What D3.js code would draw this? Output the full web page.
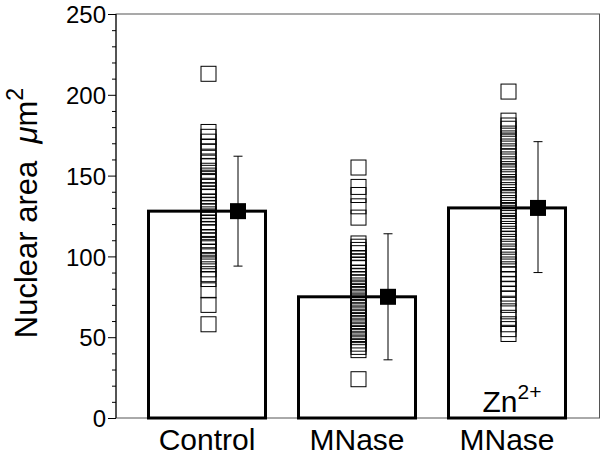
<!DOCTYPE html>
<html>
<head>
<meta charset="utf-8">
<script src="https://cdn.jsdelivr.net/npm/d3@7"></script>
<style>
body { margin: 0; background: #fff; }
text { font-family: "Liberation Sans", Arial, Helvetica, sans-serif; fill: #000; }
</style>
</head>
<body>
<script>
var width = 602;
var height = 457;
var margin = {top: 14, right: 2, bottom: 39, left: 116};

// data
var categories = ["Control", "MNase", "MNase Zn"];
var xLabels = ["Control", "MNase", "MNase"];
var barMeans = [128, 75, 130];
var errLow = [94, 36, 90];
var errHigh = [162, 114, 171];
var controlCells = [213, 177, 174, 171, 168, 165, 161, 158, 156, 153, 150, 148, 146, 143, 141, 139, 137, 134, 132, 130,
	128, 126, 124, 121, 119, 117, 115, 112, 110, 107, 105, 103, 100, 97, 95, 92, 89, 86, 79, 70, 58];
var mnaseCells = [155, 143, 138, 131, 124, 108, 106, 104, 102, 99, 97, 95, 93, 90, 88, 86, 84, 82, 80, 78, 76, 74,
	72, 70, 68, 66, 64, 62, 60, 58, 56, 54, 52, 50, 48, 46, 44, 42, 24];
var znCells = [202, 184, 181, 179, 176, 173, 171, 168, 165, 162, 160, 157, 154, 152, 149, 146, 144, 141, 138, 136,
	133, 130, 128, 125, 122, 120, 117, 114, 111, 109, 106, 103, 100, 98, 95, 92, 89, 86, 83, 80, 77, 74, 70, 66,
	62, 58, 55, 52];
var cells = [controlCells, mnaseCells, znCells];
var yTicks = [0, 50, 100, 150, 200, 250];

var w = width - margin.left - margin.right;
var h = height - margin.top - margin.bottom;

var svg = d3.select("body").append("svg")
	.attr("width", width)
	.attr("height", height);

var chart = svg.append("g")
	.attr("transform", "translate(" + margin.left + "," + margin.top + ")");

var x = d3.scalePoint()
	.domain(categories)
	.range([91, 391]);

var y = d3.scaleLinear()
	.domain([0, 250])
	.range([h, 0]);

var barW = 117;

// frame
chart.append("rect")
	.attr("x", 0).attr("y", 0)
	.attr("width", w - 0.5).attr("height", h)
	.style("fill", "none")
	.style("stroke", "#555")
	.style("stroke-width", 1);

// bars
chart.selectAll(".bar")
	.data(barMeans)
	.enter().append("rect")
	.attr("class", "bar")
	.attr("x", function(d, i) { return x(categories[i]) - barW / 2; })
	.attr("y", function(d) { return y(d); })
	.attr("width", barW)
	.attr("height", function(d) { return h - y(d); })
	.style("fill", "none")
	.style("stroke", "#000")
	.style("stroke-width", 3);

// individual cells
var sq = 15;
cells.forEach(function(vals, i) {
	chart.selectAll(".cell" + i)
		.data(vals)
		.enter().append("rect")
		.attr("class", "cell" + i)
		.attr("x", x(categories[i]) + 1.5 - sq / 2)
		.attr("y", function(d) { return y(d) - sq / 2; })
		.attr("width", sq)
		.attr("height", sq)
		.style("fill", "none")
		.style("stroke", "#000")
		.style("stroke-width", 1);
});

// error bars and mean markers
var mx = function(i) { return x(categories[i]) + 31; };
var err = chart.selectAll(".err")
	.data(barMeans)
	.enter().append("g")
	.attr("class", "err");

err.append("line")
	.attr("x1", function(d, i) { return mx(i); })
	.attr("x2", function(d, i) { return mx(i); })
	.attr("y1", function(d, i) { return y(errHigh[i]); })
	.attr("y2", function(d, i) { return y(errLow[i]); })
	.style("stroke", "#000");

[errHigh, errLow].forEach(function(arr) {
	err.append("line")
		.attr("x1", function(d, i) { return mx(i) - 4.5; })
		.attr("x2", function(d, i) { return mx(i) + 4.5; })
		.attr("y1", function(d, i) { return y(arr[i]); })
		.attr("y2", function(d, i) { return y(arr[i]); })
		.style("stroke", "#000");
});

err.append("rect")
	.attr("x", function(d, i) { return mx(i) - 8; })
	.attr("y", function(d) { return y(d) - 8; })
	.attr("width", 16)
	.attr("height", 16)
	.style("fill", "#000");

// y axis
var yAxis = d3.axisLeft(y)
	.tickValues(yTicks)
	.tickSize(8)
	.tickPadding(2);

var ya = chart.append("g").call(yAxis);
ya.select(".domain").attr("d", "M0," + h + "V0");
ya.selectAll("text").style("font-size", "24px").attr("dy", "0.36em");

var yMinor = d3.axisLeft(y)
	.tickValues(d3.range(0, 251, 10).filter(function(v) { return v % 50; }))
	.tickSize(4)
	.tickFormat("");
var ym = chart.append("g").call(yMinor);
ym.select(".domain").remove();

// x labels
chart.selectAll(".xlab")
	.data(xLabels)
	.enter().append("text")
	.attr("class", "xlab")
	.attr("x", function(d, i) { return x(categories[i]); })
	.attr("y", h + 32)
	.style("text-anchor", "middle")
	.style("font-size", "30px")
	.text(function(d) { return d; });

// Zn2+ inside third bar
var zn = chart.append("text")
	.attr("x", x(categories[2]) + 5)
	.attr("y", h - 6)
	.style("text-anchor", "middle")
	.style("font-size", "30px");
zn.append("tspan").text("Zn");
zn.append("tspan").attr("dy", "-0.6em").style("font-size", "21px").text("2+");

// y title
var yt = svg.append("text")
	.attr("transform", "translate(37,213) rotate(-90)")
	.style("text-anchor", "middle")
	.style("font-size", "31px");
yt.append("tspan").text("Nuclear area\u00a0\u00a0");
yt.append("tspan").style("font-style", "italic").text("\u03bc");
yt.append("tspan").text("m");
yt.append("tspan").attr("dy", "-0.6em").style("font-size", "23px").text("2");
</script>
</body>
</html>
